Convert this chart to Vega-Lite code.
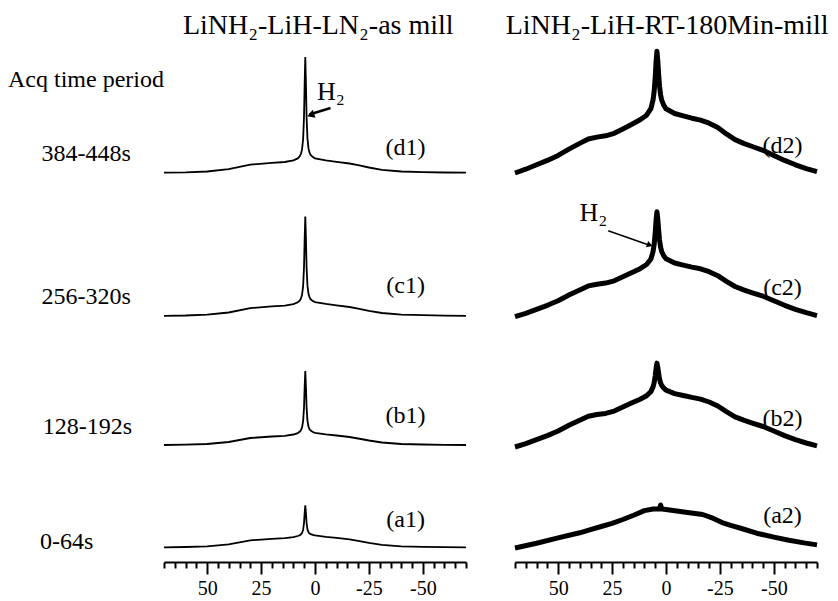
{
  "$schema": "https://vega.github.io/schema/vega-lite/v6.json",
  "background": "white",
  "padding": {"left": 8, "top": 0, "right": 0, "bottom": 0},
  "spacing": 49,
  "bounds": "flush",
  "config": {"view": {"stroke": null}, "font": "Liberation Serif"},
  "datasets": {
    "left": [
      {"series":"d1","ppm":70,"v":389.3},{"series":"d1","ppm":60,"v":389.6},{"series":"d1","ppm":50,"v":390.5},{"series":"d1","ppm":40,"v":392.8},{"series":"d1","ppm":30,"v":397.4},{"series":"d1","ppm":20,"v":399.1},{"series":"d1","ppm":14,"v":400.0},{"series":"d1","ppm":10,"v":401.6},{"series":"d1","ppm":8,"v":403.6},{"series":"d1","ppm":7,"v":405.9},{"series":"d1","ppm":6.5,"v":408.2},{"series":"d1","ppm":6,"v":412.6},{"series":"d1","ppm":5.5,"v":423.0},{"series":"d1","ppm":5.1,"v":444.7},{"series":"d1","ppm":4.8,"v":478.0},{"series":"d1","ppm":4.5,"v":505.1},{"series":"d1","ppm":4.2,"v":478.1},{"series":"d1","ppm":3.9,"v":444.9},{"series":"d1","ppm":3.5,"v":423.5},{"series":"d1","ppm":3,"v":413.3},{"series":"d1","ppm":2.5,"v":409.1},{"series":"d1","ppm":2,"v":407.0},{"series":"d1","ppm":1,"v":404.9},{"series":"d1","ppm":0,"v":403.7},{"series":"d1","ppm":-5,"v":401.7},{"series":"d1","ppm":-10,"v":400.2},{"series":"d1","ppm":-16,"v":398.5},{"series":"d1","ppm":-20,"v":396.8},{"series":"d1","ppm":-25,"v":394.5},{"series":"d1","ppm":-31,"v":392.2},{"series":"d1","ppm":-40,"v":390.5},{"series":"d1","ppm":-50,"v":389.9},{"series":"d1","ppm":-60,"v":389.5},{"series":"d1","ppm":-70,"v":389.3},
      {"series":"c1","ppm":70,"v":246.2},{"series":"c1","ppm":60,"v":246.5},{"series":"c1","ppm":50,"v":247.3},{"series":"c1","ppm":40,"v":249.5},{"series":"c1","ppm":30,"v":253.9},{"series":"c1","ppm":20,"v":255.6},{"series":"c1","ppm":14,"v":256.4},{"series":"c1","ppm":10,"v":257.9},{"series":"c1","ppm":8,"v":259.7},{"series":"c1","ppm":7,"v":261.6},{"series":"c1","ppm":6.5,"v":263.6},{"series":"c1","ppm":6,"v":267.3},{"series":"c1","ppm":5.5,"v":276.2},{"series":"c1","ppm":5.1,"v":294.5},{"series":"c1","ppm":4.8,"v":322.5},{"series":"c1","ppm":4.5,"v":345.4},{"series":"c1","ppm":4.2,"v":322.6},{"series":"c1","ppm":3.9,"v":294.7},{"series":"c1","ppm":3.5,"v":276.6},{"series":"c1","ppm":3,"v":268.0},{"series":"c1","ppm":2.5,"v":264.5},{"series":"c1","ppm":2,"v":262.7},{"series":"c1","ppm":1,"v":260.9},{"series":"c1","ppm":0,"v":259.9},{"series":"c1","ppm":-5,"v":258.1},{"series":"c1","ppm":-10,"v":256.7},{"series":"c1","ppm":-16,"v":255.0},{"series":"c1","ppm":-20,"v":253.4},{"series":"c1","ppm":-25,"v":251.2},{"series":"c1","ppm":-31,"v":249.0},{"series":"c1","ppm":-40,"v":247.3},{"series":"c1","ppm":-50,"v":246.8},{"series":"c1","ppm":-60,"v":246.4},{"series":"c1","ppm":-70,"v":246.2},
      {"series":"b1","ppm":70,"v":117},{"series":"b1","ppm":60,"v":117.3},{"series":"b1","ppm":50,"v":118},{"series":"b1","ppm":40,"v":120},{"series":"b1","ppm":30,"v":124},{"series":"b1","ppm":20,"v":125.5},{"series":"b1","ppm":14,"v":126.2},{"series":"b1","ppm":10,"v":127.5},{"series":"b1","ppm":8,"v":128.9},{"series":"b1","ppm":7,"v":130.4},{"series":"b1","ppm":6.5,"v":131.9},{"series":"b1","ppm":6,"v":134.6},{"series":"b1","ppm":5.5,"v":141.0},{"series":"b1","ppm":5.1,"v":154.2},{"series":"b1","ppm":4.8,"v":174.5},{"series":"b1","ppm":4.5,"v":191},{"series":"b1","ppm":4.2,"v":174.6},{"series":"b1","ppm":3.9,"v":154.4},{"series":"b1","ppm":3.5,"v":141.4},{"series":"b1","ppm":3,"v":135.2},{"series":"b1","ppm":2.5,"v":132.7},{"series":"b1","ppm":2,"v":131.4},{"series":"b1","ppm":1,"v":130.0},{"series":"b1","ppm":0,"v":129.2},{"series":"b1","ppm":-5,"v":127.7},{"series":"b1","ppm":-10,"v":126.5},{"series":"b1","ppm":-16,"v":125},{"series":"b1","ppm":-20,"v":123.5},{"series":"b1","ppm":-25,"v":121.5},{"series":"b1","ppm":-31,"v":119.5},{"series":"b1","ppm":-40,"v":118},{"series":"b1","ppm":-50,"v":117.5},{"series":"b1","ppm":-60,"v":117.2},{"series":"b1","ppm":-70,"v":117},
      {"series":"a1","ppm":70,"v":14.7},{"series":"a1","ppm":60,"v":15.0},{"series":"a1","ppm":50,"v":15.7},{"series":"a1","ppm":40,"v":17.7},{"series":"a1","ppm":30,"v":21.7},{"series":"a1","ppm":20,"v":23.2},{"series":"a1","ppm":14,"v":23.8},{"series":"a1","ppm":10,"v":24.9},{"series":"a1","ppm":8,"v":26.0},{"series":"a1","ppm":7,"v":26.8},{"series":"a1","ppm":6.5,"v":27.7},{"series":"a1","ppm":6,"v":29.1},{"series":"a1","ppm":5.5,"v":32.3},{"series":"a1","ppm":5.1,"v":38.8},{"series":"a1","ppm":4.8,"v":48.6},{"series":"a1","ppm":4.5,"v":56.7},{"series":"a1","ppm":4.2,"v":48.7},{"series":"a1","ppm":3.9,"v":39.0},{"series":"a1","ppm":3.5,"v":32.7},{"series":"a1","ppm":3,"v":29.7},{"series":"a1","ppm":2.5,"v":28.5},{"series":"a1","ppm":2,"v":27.8},{"series":"a1","ppm":1,"v":27.1},{"series":"a1","ppm":0,"v":26.6},{"series":"a1","ppm":-5,"v":25.2},{"series":"a1","ppm":-10,"v":24.2},{"series":"a1","ppm":-16,"v":22.7},{"series":"a1","ppm":-20,"v":21.2},{"series":"a1","ppm":-25,"v":19.2},{"series":"a1","ppm":-31,"v":17.2},{"series":"a1","ppm":-40,"v":15.7},{"series":"a1","ppm":-50,"v":15.2},{"series":"a1","ppm":-60,"v":14.9},{"series":"a1","ppm":-70,"v":14.7}
    ],
    "right": [
      {"series":"d2","ppm":70,"v":389},{"series":"d2","ppm":65,"v":392.8},{"series":"d2","ppm":60,"v":397.2},{"series":"d2","ppm":55,"v":401.6},{"series":"d2","ppm":50,"v":406.6},{"series":"d2","ppm":45,"v":412.9},{"series":"d2","ppm":40,"v":418.6},{"series":"d2","ppm":36,"v":423},{"series":"d2","ppm":32,"v":424.9},{"series":"d2","ppm":28,"v":426.2},{"series":"d2","ppm":24,"v":428.7},{"series":"d2","ppm":20,"v":433.1},{"series":"d2","ppm":16,"v":437.5},{"series":"d2","ppm":12,"v":442.2},{"series":"d2","ppm":9,"v":446.8},{"series":"d2","ppm":7,"v":453.4},{"series":"d2","ppm":6,"v":462.1},{"series":"d2","ppm":5.5,"v":470.4},{"series":"d2","ppm":5,"v":484.9},{"series":"d2","ppm":4.6,"v":500.0},{"series":"d2","ppm":4.2,"v":510.7},{"series":"d2","ppm":3.8,"v":501.3},{"series":"d2","ppm":3.4,"v":487.4},{"series":"d2","ppm":3,"v":475.8},{"series":"d2","ppm":2.5,"v":467.1},{"series":"d2","ppm":2,"v":461.9},{"series":"d2","ppm":1,"v":456.6},{"series":"d2","ppm":0,"v":453.2},{"series":"d2","ppm":-4,"v":448.5},{"series":"d2","ppm":-8,"v":446.1},{"series":"d2","ppm":-12,"v":443.8},{"series":"d2","ppm":-16,"v":441.9},{"series":"d2","ppm":-20,"v":438.8},{"series":"d2","ppm":-24,"v":434.4},{"series":"d2","ppm":-28,"v":428.1},{"series":"d2","ppm":-32,"v":422.4},{"series":"d2","ppm":-36,"v":418.6},{"series":"d2","ppm":-40,"v":415.5},{"series":"d2","ppm":-45,"v":411.7},{"series":"d2","ppm":-50,"v":406.6},{"series":"d2","ppm":-55,"v":401.6},{"series":"d2","ppm":-60,"v":397.2},{"series":"d2","ppm":-65,"v":393.4},{"series":"d2","ppm":-70,"v":390.3},
      {"series":"c2","ppm":70,"v":245.3},{"series":"c2","ppm":65,"v":248.7},{"series":"c2","ppm":60,"v":252.7},{"series":"c2","ppm":55,"v":256.7},{"series":"c2","ppm":50,"v":261.3},{"series":"c2","ppm":45,"v":267.0},{"series":"c2","ppm":40,"v":272.1},{"series":"c2","ppm":36,"v":276.1},{"series":"c2","ppm":32,"v":277.8},{"series":"c2","ppm":28,"v":278.9},{"series":"c2","ppm":24,"v":281.2},{"series":"c2","ppm":20,"v":285.2},{"series":"c2","ppm":16,"v":289.2},{"series":"c2","ppm":12,"v":293.3},{"series":"c2","ppm":9,"v":297.5},{"series":"c2","ppm":7,"v":303.0},{"series":"c2","ppm":6,"v":310.4},{"series":"c2","ppm":5.5,"v":317.3},{"series":"c2","ppm":5,"v":329.3},{"series":"c2","ppm":4.6,"v":341.9},{"series":"c2","ppm":4.2,"v":350.2},{"series":"c2","ppm":3.8,"v":343.0},{"series":"c2","ppm":3.4,"v":331.6},{"series":"c2","ppm":3,"v":322.0},{"series":"c2","ppm":2.5,"v":314.8},{"series":"c2","ppm":2,"v":310.5},{"series":"c2","ppm":1,"v":306.0},{"series":"c2","ppm":0,"v":303.2},{"series":"c2","ppm":-4,"v":299.0},{"series":"c2","ppm":-8,"v":296.9},{"series":"c2","ppm":-12,"v":294.9},{"series":"c2","ppm":-16,"v":293.2},{"series":"c2","ppm":-20,"v":290.3},{"series":"c2","ppm":-24,"v":286.3},{"series":"c2","ppm":-28,"v":280.6},{"series":"c2","ppm":-32,"v":275.5},{"series":"c2","ppm":-36,"v":272.1},{"series":"c2","ppm":-40,"v":269.2},{"series":"c2","ppm":-45,"v":265.8},{"series":"c2","ppm":-50,"v":261.3},{"series":"c2","ppm":-55,"v":256.7},{"series":"c2","ppm":-60,"v":252.7},{"series":"c2","ppm":-65,"v":249.3},{"series":"c2","ppm":-70,"v":246.4},
      {"series":"b2","ppm":70,"v":115},{"series":"b2","ppm":65,"v":118.4},{"series":"b2","ppm":60,"v":122.4},{"series":"b2","ppm":55,"v":126.4},{"series":"b2","ppm":50,"v":131.0},{"series":"b2","ppm":45,"v":136.7},{"series":"b2","ppm":40,"v":141.8},{"series":"b2","ppm":36,"v":145.8},{"series":"b2","ppm":32,"v":147.5},{"series":"b2","ppm":28,"v":148.6},{"series":"b2","ppm":24,"v":150.9},{"series":"b2","ppm":20,"v":154.9},{"series":"b2","ppm":16,"v":158.9},{"series":"b2","ppm":12,"v":162.7},{"series":"b2","ppm":9,"v":166.3},{"series":"b2","ppm":7,"v":170.4},{"series":"b2","ppm":6,"v":175.1},{"series":"b2","ppm":5.5,"v":179.2},{"series":"b2","ppm":5,"v":186.2},{"series":"b2","ppm":4.6,"v":193.5},{"series":"b2","ppm":4.2,"v":198.9},{"series":"b2","ppm":3.8,"v":194.6},{"series":"b2","ppm":3.4,"v":188.5},{"series":"b2","ppm":3,"v":183.1},{"series":"b2","ppm":2.5,"v":179.0},{"series":"b2","ppm":2,"v":176.6},{"series":"b2","ppm":1,"v":173.8},{"series":"b2","ppm":0,"v":171.8},{"series":"b2","ppm":-4,"v":168.4},{"series":"b2","ppm":-8,"v":166.5},{"series":"b2","ppm":-12,"v":164.6},{"series":"b2","ppm":-16,"v":162.9},{"series":"b2","ppm":-20,"v":160.0},{"series":"b2","ppm":-24,"v":156.0},{"series":"b2","ppm":-28,"v":150.3},{"series":"b2","ppm":-32,"v":145.2},{"series":"b2","ppm":-36,"v":141.8},{"series":"b2","ppm":-40,"v":138.9},{"series":"b2","ppm":-45,"v":135.5},{"series":"b2","ppm":-50,"v":131.0},{"series":"b2","ppm":-55,"v":126.4},{"series":"b2","ppm":-60,"v":122.4},{"series":"b2","ppm":-65,"v":119.0},{"series":"b2","ppm":-70,"v":116.1},
      {"series":"a2","ppm":70,"v":14},{"series":"a2","ppm":60,"v":18.7},{"series":"a2","ppm":50,"v":24.1},{"series":"a2","ppm":40,"v":29.2},{"series":"a2","ppm":35,"v":32.3},{"series":"a2","ppm":30,"v":35.5},{"series":"a2","ppm":25,"v":38.6},{"series":"a2","ppm":20,"v":42.5},{"series":"a2","ppm":15,"v":46.8},{"series":"a2","ppm":10,"v":51.4},{"series":"a2","ppm":6,"v":53},{"series":"a2","ppm":3,"v":53},{"series":"a2","ppm":2.5,"v":57},{"series":"a2","ppm":2,"v":53},{"series":"a2","ppm":0,"v":52.6},{"series":"a2","ppm":-5,"v":51.1},{"series":"a2","ppm":-10,"v":49.5},{"series":"a2","ppm":-17,"v":47.5},{"series":"a2","ppm":-22,"v":43.6},{"series":"a2","ppm":-26,"v":39.4},{"series":"a2","ppm":-30,"v":36.6},{"series":"a2","ppm":-35,"v":33.5},{"series":"a2","ppm":-42,"v":28.8},{"series":"a2","ppm":-50,"v":24.9},{"series":"a2","ppm":-57,"v":21.8},{"series":"a2","ppm":-64,"v":19.1},{"series":"a2","ppm":-70,"v":17.1}
    ],
    "leftTitle": [{"ppm": -1.5, "v": 528, "label": "LiNH₂-LiH-LN₂-as mill"}],
    "rightTitle": [{"ppm": -0.5, "v": 528, "label": "LiNH₂-LiH-RT-180Min-mill"}],
    "leftTags": [{"ppm": -42, "v": 414, "label": "(d1)"}, {"ppm": -42, "v": 276, "label": "(c1)"}, {"ppm": -42, "v": 146, "label": "(b1)"}, {"ppm": -42, "v": 42, "label": "(a1)"}],
    "rightTags": [{"ppm": -54, "v": 416, "label": "(d2)"}, {"ppm": -54, "v": 274, "label": "(c2)"}, {"ppm": -54, "v": 143, "label": "(b2)"}, {"ppm": -54, "v": 46, "label": "(a2)"}],
    "times": [{"ppm": 142.3, "v": 482, "label": "Acq time period"}, {"ppm": 126.8, "v": 408, "label": "384-448s"}, {"ppm": 126.8, "v": 265, "label": "256-320s"}, {"ppm": 126.2, "v": 135, "label": "128-192s"}, {"ppm": 127.5, "v": 20, "label": "0-64s"}],
    "leftH2": [{"ppm": -7.4, "v": 470, "label": "H₂"}],
    "rightH2": [{"ppm": 33.7, "v": 349, "label": "H₂"}],
    "leftArrow": [{"ppm": -7.2, "ppm2": 2.6, "v": 454, "v2": 447.5}],
    "leftHead": [{"ppm": 2.0, "v": 447}],
    "rightArrow": [{"ppm": 26.8, "ppm2": 8.3, "v": 331.3, "v2": 317.3}],
    "rightHead": [{"ppm": 7.5, "v": 317}]
  },
  "hconcat": [
    {
      "width": 302,
      "height": 562,
      "encoding": {
        "x": {"field": "ppm", "type": "quantitative",
          "scale": {"domain": [-70, 70], "reverse": true, "nice": false, "zero": false},
          "axis": {
            "title": null, "grid": false,
            "values": [70,65,60,55,50,45,40,35,30,25,20,15,10,5,0,-5,-10,-15,-20,-25,-30,-35,-40,-45,-50,-55,-60,-65,-70],
            "labelExpr": "(datum.value % 25 === 0 && abs(datum.value) <= 50) ? ('' + datum.value) : ''",
            "tickSize": {"condition": {"test": "datum.value % 25 === 0 && abs(datum.value) <= 50", "value": 12}, "value": 6},
            "tickWidth": 2, "tickColor": "black", "domainWidth": 2, "domainColor": "black",
            "labelFont": "Liberation Serif", "labelFontSize": 20, "labelColor": "black", "labelPadding": 4,
            "labelFlush": false, "labelOverlap": false
          }
        },
        "y": {"field": "v", "type": "quantitative", "scale": {"domain": [0, 562], "nice": false, "zero": false}, "axis": null}
      },
      "layer": [
        {"data": {"name": "left"}, "mark": {"type": "line", "color": "black", "strokeWidth": 1.8}, "encoding": {"detail": {"field": "series"}}},
        {"data": {"name": "leftTitle"}, "mark": {"type": "text", "font": "Liberation Serif", "fontSize": 28, "align": "center", "baseline": "alphabetic", "color": "black"}, "encoding": {"text": {"field": "label"}}},
        {"data": {"name": "leftTags"}, "mark": {"type": "text", "font": "Liberation Serif", "fontSize": 24, "align": "center", "baseline": "middle", "color": "black"}, "encoding": {"text": {"field": "label"}}},
        {"data": {"name": "times"}, "mark": {"type": "text", "font": "Liberation Serif", "fontSize": 24, "align": "left", "baseline": "middle", "color": "black"}, "encoding": {"text": {"field": "label"}}},
        {"data": {"name": "leftH2"}, "mark": {"type": "text", "font": "Liberation Serif", "fontSize": 26, "align": "center", "baseline": "middle", "color": "black"}, "encoding": {"text": {"field": "label"}}},
        {"data": {"name": "leftArrow"}, "mark": {"type": "rule", "color": "black", "strokeWidth": 2.5}, "encoding": {"x2": {"field": "ppm2"}, "y2": {"field": "v2"}}},
        {"data": {"name": "leftHead"}, "mark": {"type": "point", "shape": "triangle-up", "filled": true, "color": "black", "opacity": 1, "size": 70, "angle": 251}, "encoding": {}}
      ]
    },
    {
      "width": 302,
      "height": 562,
      "encoding": {
        "x": {"field": "ppm", "type": "quantitative",
          "scale": {"domain": [-70, 70], "reverse": true, "nice": false, "zero": false},
          "axis": {
            "title": null, "grid": false,
            "values": [70,65,60,55,50,45,40,35,30,25,20,15,10,5,0,-5,-10,-15,-20,-25,-30,-35,-40,-45,-50,-55,-60,-65,-70],
            "labelExpr": "(datum.value % 25 === 0 && abs(datum.value) <= 50) ? ('' + datum.value) : ''",
            "tickSize": {"condition": {"test": "datum.value % 25 === 0 && abs(datum.value) <= 50", "value": 12}, "value": 6},
            "tickWidth": 2, "tickColor": "black", "domainWidth": 2, "domainColor": "black",
            "labelFont": "Liberation Serif", "labelFontSize": 20, "labelColor": "black", "labelPadding": 4,
            "labelFlush": false, "labelOverlap": false
          }
        },
        "y": {"field": "v", "type": "quantitative", "scale": {"domain": [0, 562], "nice": false, "zero": false}, "axis": null}
      },
      "layer": [
        {"data": {"name": "right"}, "mark": {"type": "line", "color": "black", "strokeWidth": 5, "strokeJoin": "round"}, "encoding": {"detail": {"field": "series"}}},
        {"data": {"name": "rightTitle"}, "mark": {"type": "text", "font": "Liberation Serif", "fontSize": 28, "align": "center", "baseline": "alphabetic", "color": "black"}, "encoding": {"text": {"field": "label"}}},
        {"data": {"name": "rightTags"}, "mark": {"type": "text", "font": "Liberation Serif", "fontSize": 24, "align": "center", "baseline": "middle", "color": "black"}, "encoding": {"text": {"field": "label"}}},
        {"data": {"name": "rightH2"}, "mark": {"type": "text", "font": "Liberation Serif", "fontSize": 26, "align": "center", "baseline": "middle", "color": "black"}, "encoding": {"text": {"field": "label"}}},
        {"data": {"name": "rightArrow"}, "mark": {"type": "rule", "color": "black", "strokeWidth": 1.5}, "encoding": {"x2": {"field": "ppm2"}, "y2": {"field": "v2"}}},
        {"data": {"name": "rightHead"}, "mark": {"type": "point", "shape": "triangle-up", "filled": true, "color": "black", "opacity": 1, "size": 45, "angle": 109}, "encoding": {}}
      ]
    }
  ]
}
